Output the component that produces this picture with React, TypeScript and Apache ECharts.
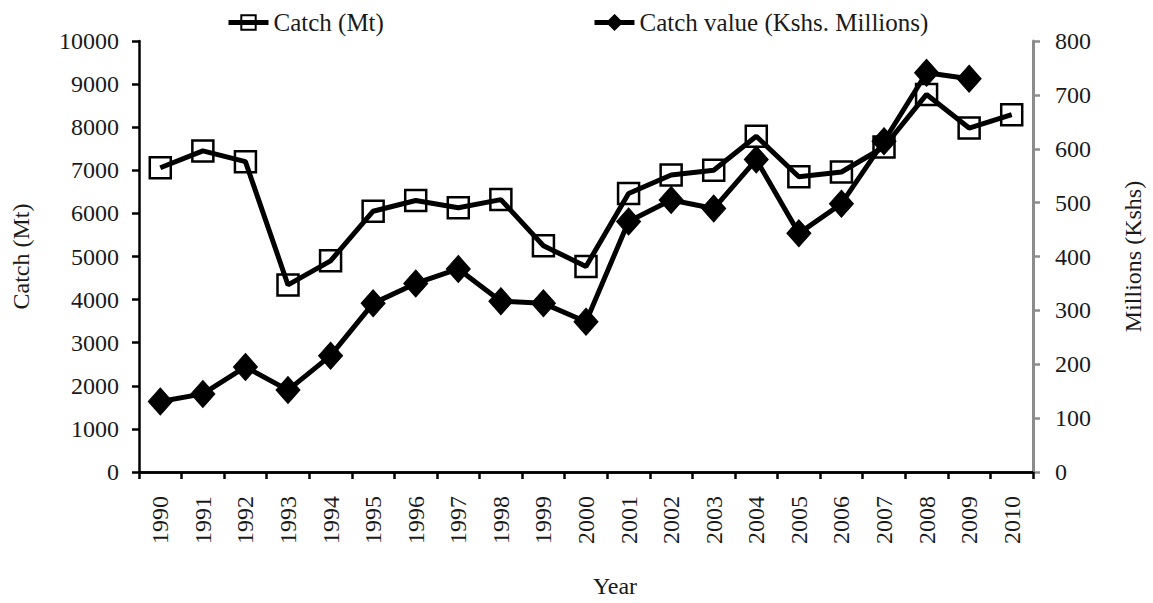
import React, { useEffect, useRef } from "react";
import * as echarts from "echarts";

const years = [
  "1990", "1991", "1992", "1993", "1994", "1995", "1996", "1997", "1998", "1999", "2000",
  "2001", "2002", "2003", "2004", "2005", "2006", "2007", "2008", "2009", "2010",
];
const catchMt = [
  7060, 7450, 7200, 4340, 4900, 6050, 6300, 6130, 6320, 5250, 4770,
  6460, 6890, 7000, 7790, 6850, 6960, 7540, 8760, 7980, 8290,
];
const catchValue = [
  131, 145, 195, 152, 216, 313, 350, 377, 317, 313, 279,
  465, 505, 489, 580, 443, 498, 614, 741, 730, null,
];
const leftTicks = { min: 0, max: 10000, interval: 1000 };
const rightTicks = { min: 0, max: 800, interval: 100 };

const FONT = "'Liberation Serif', 'Times New Roman', serif";
const TXT = "#1a1a1a";

export default function App() {
  const ref = useRef<HTMLDivElement>(null);
  useEffect(() => {
    if (!ref.current) return;
    const chart = echarts.init(ref.current, undefined, { renderer: "svg" });
    const textStyle = { fontFamily: FONT, color: TXT, fontSize: 24 };
    const legendCommon = {
      top: 5,
      itemWidth: 40,
      itemHeight: 18,
      lineStyle: { width: 5, color: "#000" },
      textStyle: { ...textStyle, fontSize: 25 },
    };
    chart.setOption({
      animation: false,
      backgroundColor: "#ffffff",
      grid: { left: 139, right: 113, top: 41, bottom: 121, containLabel: false },
      legend: [
        { ...legendCommon, data: ["Catch (Mt)"], left: 221 },
        { ...legendCommon, data: ["Catch value (Kshs. Millions)"], left: 587 },
      ],
      xAxis: [
        {
          type: "category",
          data: years,
          position: "bottom",
          boundaryGap: true,
          axisLine: { show: true, lineStyle: { color: "#000", width: 2.5 } },
          axisTick: { show: true, length: 7, alignWithLabel: false, lineStyle: { color: "#000", width: 2.5 } },
          axisLabel: { rotate: 90, margin: 24, ...textStyle },
          splitLine: { show: false },
          name: "Year",
          nameLocation: "middle",
          nameGap: 102,
          nameTextStyle: { ...textStyle, padding: [0, 0, 0, 58] },
        },
        {
          type: "category",
          data: years,
          position: "top",
          axisLine: { show: true, lineStyle: { color: "#000", width: 2.5 } },
          axisTick: { show: false },
          axisLabel: { show: false },
          splitLine: { show: false },
        },
      ],
      yAxis: [
        {
          type: "value",
          position: "left",
          min: leftTicks.min,
          max: leftTicks.max,
          interval: leftTicks.interval,
          axisLine: { show: true, lineStyle: { color: "#000", width: 2.5 } },
          axisTick: { show: true, length: 7, lineStyle: { color: "#000", width: 2.5 } },
          axisLabel: { margin: 20, ...textStyle, formatter: (v: number) => String(v) },
          splitLine: { show: false },
          name: "Catch (Mt)",
          nameLocation: "middle",
          nameRotate: 90,
          nameGap: 106,
          nameTextStyle: { ...textStyle },
        },
        {
          type: "value",
          position: "right",
          min: rightTicks.min,
          max: rightTicks.max,
          interval: rightTicks.interval,
          axisLine: { show: true, lineStyle: { color: "#8c8c8c", width: 3 } },
          axisTick: { show: true, length: 7, lineStyle: { color: "#8c8c8c", width: 2.5 } },
          axisLabel: { margin: 22, ...textStyle, formatter: (v: number) => String(v) },
          splitLine: { show: false },
          name: "Millions (Kshs)",
          nameLocation: "middle",
          nameRotate: 90,
          nameGap: 88,
          nameTextStyle: { ...textStyle },
        },
      ],
      series: [
        {
          name: "Catch (Mt)",
          type: "line",
          data: catchMt,
          xAxisIndex: 0,
          yAxisIndex: 0,
          symbol: "rect",
          symbolSize: 21,
          showAllSymbol: true,
          lineStyle: { color: "#000", width: 5 },
          itemStyle: { color: "rgba(255,255,255,0)", borderColor: "#000", borderWidth: 2.5 },
          emphasis: { disabled: true },
        },
        {
          name: "Catch value (Kshs. Millions)",
          type: "line",
          data: catchValue,
          xAxisIndex: 0,
          yAxisIndex: 1,
          symbol: "diamond",
          symbolSize: [24, 27],
          showAllSymbol: true,
          lineStyle: { color: "#000", width: 5 },
          itemStyle: { color: "#000", borderColor: "#000", borderWidth: 1 },
          emphasis: { disabled: true },
        },
      ],
    });
    return () => chart.dispose();
  }, []);
  return (
    <div
      ref={ref}
      style={{ position: "fixed", left: 0, top: 0, width: 1153, height: 603, background: "#fff" }}
    />
  );
}
